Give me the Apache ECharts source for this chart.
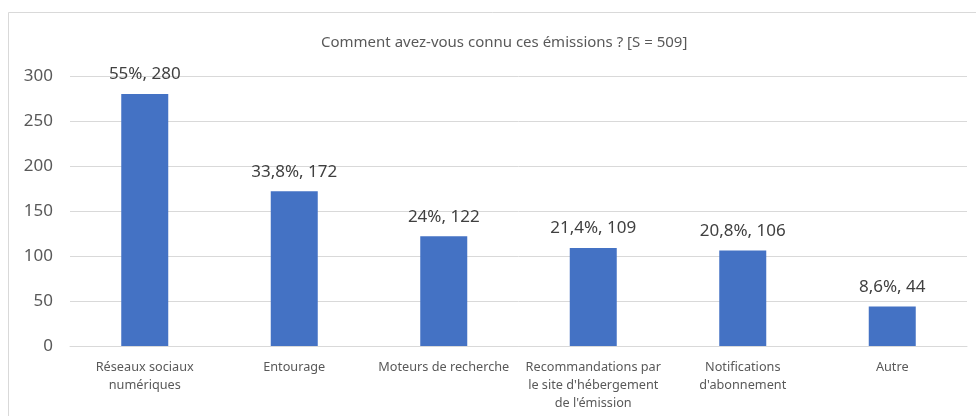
<!DOCTYPE html>
<html>
<head>
<meta charset="utf-8">
<script src="https://cdn.jsdelivr.net/npm/echarts@6/dist/echarts.min.js"></script>
<style>
html,body{margin:0;padding:0;background:#fff;}
#c{width:976px;height:416px;}
</style>
</head>
<body>
<div id="c"></div>
<script>
const titleText = "Comment avez-vous connu ces émissions ? [S = 509]";
const categories = [
  "Réseaux sociaux\nnumériques",
  "Entourage",
  "Moteurs de recherche",
  "Recommandations par\nle site d'hébergement\nde l'émission",
  "Notifications\nd'abonnement",
  "Autre"
];
const counts = [280, 172, 122, 109, 106, 44];
const percents = ["55%", "33,8%", "24%", "21,4%", "20,8%", "8,6%"];
const yTicks = { min: 0, max: 300, interval: 50 };

const FONT = "Noto Sans";
const chart = echarts.init(document.getElementById('c'), null, { renderer: 'canvas' });
chart.setOption({
  animation: false,
  backgroundColor: '#ffffff',
  graphic: [{
    type: 'rect',
    shape: { x: 8.5, y: 12.5, width: 1000, height: 500 },
    style: { fill: 'none', stroke: '#d9d9d9', lineWidth: 1 },
    silent: true
  }],
  title: {
    text: titleText,
    left: 316,
    top: 30,
    textStyle: { fontFamily: FONT, fontSize: 15, fontWeight: 'normal', color: '#595959' }
  },
  grid: { left: 70, right: 9, top: 76, bottom: 70, containLabel: false },
  xAxis: {
    type: 'category',
    data: categories,
    axisLine: { lineStyle: { color: '#d9d9d9', width: 1 } },
    axisTick: { show: false },
    axisLabel: {
      interval: 0,
      margin: 12,
      fontFamily: FONT,
      fontSize: 12.7,
      color: '#595959',
      lineHeight: 18
    }
  },
  yAxis: {
    type: 'value',
    min: yTicks.min,
    max: yTicks.max,
    interval: yTicks.interval,
    axisLine: { show: false },
    axisTick: { show: false },
    splitLine: { lineStyle: { color: '#d9d9d9', width: 1 } },
    axisLabel: { margin: 17, fontFamily: FONT, fontSize: 17, color: '#595959' }
  },
  series: [{
    type: 'bar',
    data: counts,
    barWidth: 47,
    itemStyle: { color: '#4472C4' },
    label: {
      show: true,
      position: 'top',
      distance: 11,
      fontFamily: FONT,
      fontSize: 17,
      color: '#404040',
      formatter: p => percents[p.dataIndex] + ', ' + p.value
    }
  }]
});
</script>
</body>
</html>
